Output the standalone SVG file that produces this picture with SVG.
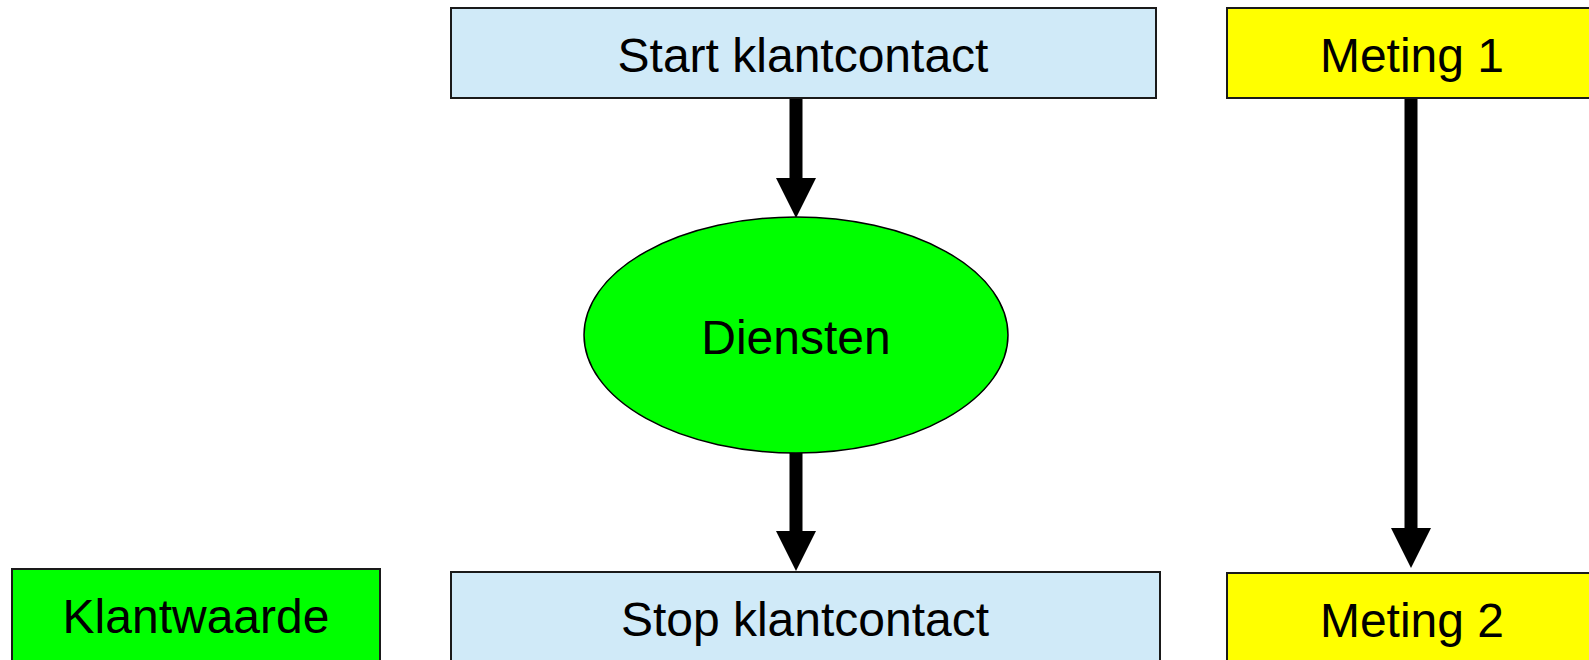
<svg xmlns="http://www.w3.org/2000/svg" width="1589" height="660" viewBox="0 0 1589 660">
<defs>
<style>
.box{stroke:#1a1a1a;stroke-width:2}
.blue{fill:#D0EAF8}
.yellow{fill:#FFFF00}
.green{fill:#00FF00}
.lbl{font-family:"Liberation Sans",Arial,sans-serif;font-size:48px;fill:#000;text-anchor:middle}
.conn{stroke:#000;stroke-width:13;fill:none;marker-end:url(#head)}
</style>
<marker id="head" markerUnits="userSpaceOnUse" markerWidth="40" markerHeight="40" refX="0" refY="20" orient="auto" viewBox="0 0 40 40">
<path d="M0,0 L40,20 L0,40 Z" fill="#000"/>
</marker>
</defs>
<rect width="1589" height="660" fill="#fff"/>
<g id="connectors">
<line class="conn" x1="796" y1="98" x2="796" y2="178"/>
<line class="conn" x1="796" y1="453" x2="796" y2="531"/>
<line class="conn" x1="1411" y1="98" x2="1411" y2="528"/>
</g>
<g id="start">
<rect class="box blue" x="451" y="8" width="705" height="90"/>
<text class="lbl" x="803" y="72">Start klantcontact</text>
</g>
<g id="meting1">
<rect class="box yellow" x="1227" y="8" width="370" height="90"/>
<text class="lbl" x="1412" y="72">Meting 1</text>
</g>
<g id="diensten">
<ellipse cx="796" cy="335" rx="212" ry="118" fill="#00FF00" stroke="#000" stroke-width="1.5"/>
<text class="lbl" x="796" y="354">Diensten</text>
</g>
<g id="klantwaarde">
<rect class="box green" x="12" y="569" width="368" height="100"/>
<text class="lbl" x="196" y="633">Klantwaarde</text>
</g>
<g id="stop">
<rect class="box blue" x="451" y="572" width="709" height="100"/>
<text class="lbl" x="805" y="636">Stop klantcontact</text>
</g>
<g id="meting2">
<rect class="box yellow" x="1227" y="573" width="370" height="100"/>
<text class="lbl" x="1412" y="637">Meting 2</text>
</g>
</svg>
